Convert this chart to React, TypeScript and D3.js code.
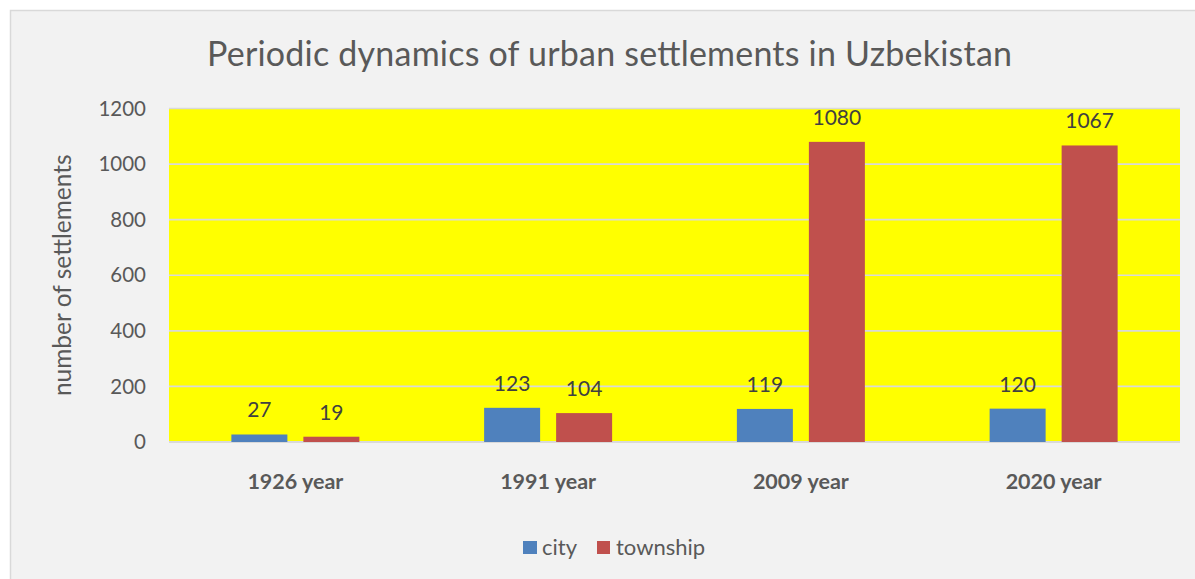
import React from "react";
import * as d3 from "d3";

const categories = ["1926 year", "1991 year", "2009 year", "2020 year"];
const seriesNames = ["city", "township"];
const cityValues = [27, 123, 119, 120];
const townshipValues = [19, 104, 1080, 1067];
const yTicks = [0, 200, 400, 600, 800, 1000, 1200];
const seriesColors = ["#4f81bd", "#c0504d"];
const title = "Periodic dynamics of urban settlements in Uzbekistan";
const yAxisTitle = "number of settlements";

const W = 1195;
const H = 579;
const FONT = "Lato, 'Open Sans', sans-serif";

export default function App() {
  const plot = { left: 169, right: 1180, top: 108.5, bottom: 442 };
  const x = d3.scaleBand<string>().domain(categories).range([plot.left, plot.right]).paddingInner(0).paddingOuter(0);
  const y = d3.scaleLinear().domain([0, 1200]).range([plot.bottom, plot.top]);
  const barW = 56;
  const gap = 16;
  const seriesData = [cityValues, townshipValues];
  const bw = x.bandwidth();

  return (
    <svg width={W} height={H} style={{ position: "absolute", left: 0, top: 0, display: "block" }}>
      <rect x={0} y={0} width={W} height={H} fill="#ffffff" />
      <rect x={10.5} y={10.5} width={W} height={H} fill="#f2f2f2" stroke="#d9d9d9" strokeWidth={1.5} />
      <text x={609.5} y={66} textAnchor="middle" fontFamily={FONT} fontWeight={400} fontSize={34} fill="#595959"
        textLength={805} lengthAdjust="spacing">
        {title}
      </text>
      <rect x={plot.left} y={plot.top} width={plot.right - plot.left} height={plot.bottom - plot.top} fill="#ffff00" />
      {yTicks.map((t) => (
        <g key={t}>
          <line x1={plot.left} x2={plot.right} y1={y(t)} y2={y(t)} stroke="#d9d9d9" strokeWidth={t === 0 ? 2 : 1.6} />
          <text x={146} y={y(t)} dy="0.35em" textAnchor="end" fontFamily={FONT} fontSize={20.5} fill="#595959">
            {t}
          </text>
        </g>
      ))}
      <text
        transform={`translate(71, ${(plot.top + plot.bottom) / 2}) rotate(-90)`}
        textAnchor="middle"
        fontFamily={FONT}
        fontSize={24.5}
        fill="#595959"
      >
        {yAxisTitle}
      </text>
      {categories.map((c, i) => {
        const cx = (x(c) as number) + bw / 2;
        return (
          <g key={c}>
            {seriesData.map((vals, s) => {
              const bx = cx - gap / 2 - barW + s * (barW + gap);
              const v = vals[i];
              return (
                <g key={s}>
                  <rect x={bx} y={y(v)} width={barW} height={plot.bottom - y(v)} fill={seriesColors[s]} />
                  <text x={bx + barW / 2} y={y(v) - 17} textAnchor="middle" fontFamily={FONT} fontSize={21} fill="#404040">
                    {v}
                  </text>
                </g>
              );
            })}
            <text x={cx} y={489} textAnchor="middle" fontFamily={FONT} fontWeight={700} fontSize={21.5} fill="#595959">
              {c}
            </text>
          </g>
        );
      })}
      <g>
        <rect x={523} y={541} width={14} height={13} fill={seriesColors[0]} />
        <text x={542} y={555} fontFamily={FONT} fontSize={22} fill="#595959">{seriesNames[0]}</text>
        <rect x={597} y={541} width={13} height={13} fill={seriesColors[1]} />
        <text x={616} y={555} fontFamily={FONT} fontSize={22} fill="#595959">{seriesNames[1]}</text>
      </g>
    </svg>
  );
}
